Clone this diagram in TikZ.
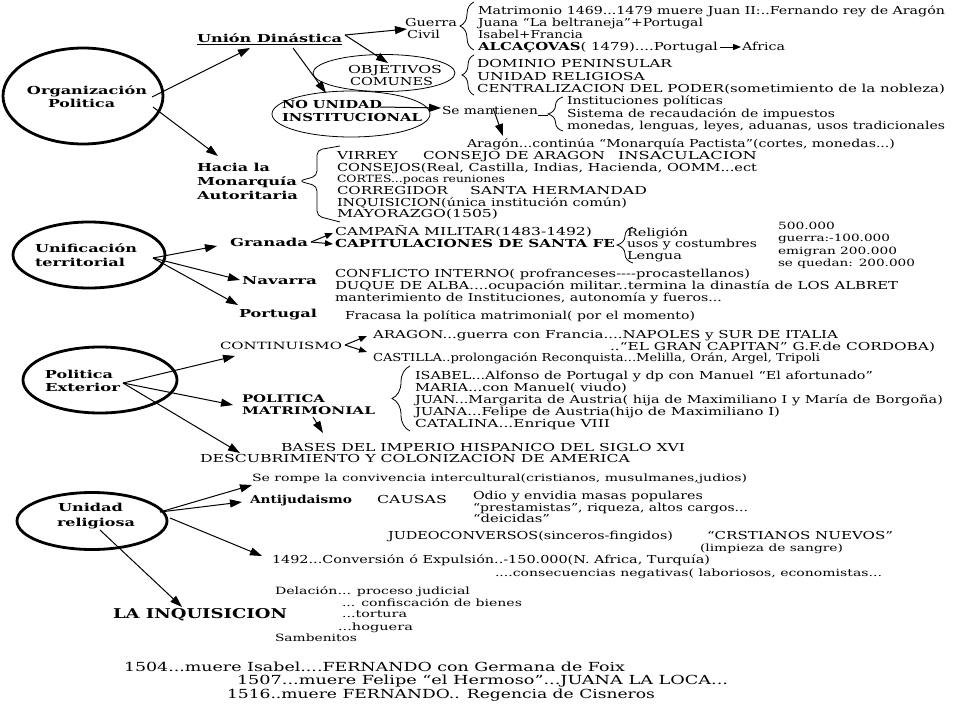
\documentclass[tikz,border=0pt]{standalone}
\usepackage{fontspec}
\setmainfont{DejaVu Serif}
\usetikzlibrary{arrows.meta,shapes.geometric,decorations.pathreplacing}
\newsavebox\fwbox
\newlength\fwlen
\newcommand\fw[2]{\sbox\fwbox{#2}\setlength\fwlen{\wd\fwbox}\pgfmathsetmacro\fwr{#1/\fwlen}\scalebox{\fwr}[1]{\usebox\fwbox}}
\newcommand\txtline[6][]{\node[txt,#1] (#2) at (#3,{#4+4}) {\fw{#5}{#6}};}
\begin{document}
\begin{tikzpicture}[x=1pt,y=-1pt,
  txt/.style={anchor=base west, inner sep=0pt, outer sep=0pt, font=\fontsize{11}{13}\selectfont},
  bfx/.style={font=\fontsize{11}{13}\selectfont\bfseries},
  bfsm/.style={font=\fontsize{10.5}{12}\selectfont\bfseries},
  sm/.style={font=\fontsize{10}{12}\selectfont},
  big/.style={font=\fontsize{12.5}{14}\selectfont},
  inq/.style={font=\fontsize{13.5}{15}\selectfont\bfseries},
  bigell/.style={draw, ellipse, line width=2.8pt, inner sep=0pt},
  thinell/.style={draw, ellipse, line width=0.8pt, inner sep=0pt},
  arr/.style={-{Triangle[length=12pt,width=8pt]}, line width=1pt},
  sarr/.style={-{Triangle[length=8pt,width=6pt]}, line width=1pt},
  brc/.style={decorate, decoration={brace, amplitude=#1}, line width=0.8pt}]
\useasboundingbox (0,0) rectangle (960,720);
\fill[white] (0,0) rectangle (960,720);

% ellipses
\node[bigell, minimum width=160pt, minimum height=96pt] (orgE) at (83,96) {};
\node[bigell, minimum width=152pt, minimum height=66pt] (unifE) at (89,255) {};
\node[bigell, minimum width=154pt, minimum height=66pt] (polE) at (100,380) {};
\node[bigell, minimum width=150pt, minimum height=57pt] (unidE) at (92,521) {};
\node[thinell, minimum width=142pt, minimum height=37pt] (objE) at (384,73) {};
\node[thinell, minimum width=158pt, minimum height=46pt] (noUE) at (351,114) {};

% circle texts
\txtline[bfx]{org1}{27}{90}{120}{Organización}
\txtline[bfx]{org2}{48}{103}{67}{Politica}
\txtline[bfx]{unif1}{35}{248}{102}{Unificación}
\txtline[bfx]{unif2}{35}{262}{90}{territorial}
\txtline[bfx]{pol1}{45}{374}{68}{Politica}
\txtline[bfx]{pol2}{45}{387}{75}{Exterior}
\txtline[bfx]{uni1}{58}{507}{65}{Unidad}
\txtline[bfx]{uni2}{57}{522}{78}{religiosa}

% top
\txtline[bfx]{unionD}{197}{38}{145}{Unión Dinástica}
\txtline{guerra}{405}{23}{52}{Guerra}
\txtline{civil}{407}{34}{33}{Civil}
\txtline{m1}{478}{10}{467}{Matrimonio 1469...1479 muere Juan II:..Fernando rey de Aragón}
\txtline{m2}{478}{22}{225}{Juana “La beltraneja”+Portugal}
\txtline{m3}{478}{34}{105}{Isabel+Francia}
\txtline{m4}{478}{46}{240}{\textbf{ALCAÇOVAS}( 1479)....Portugal}
\txtline{africa}{742}{46}{43}{Africa}
\txtline{obj1}{348}{69}{94}{OBJETIVOS}
\txtline{obj2}{350}{81}{83}{COMUNES}
\txtline{o1}{477}{63}{195}{DOMINIO PENINSULAR}
\txtline{o2}{477}{76}{168}{UNIDAD RELIGIOSA}
\txtline{o3}{477}{88}{468}{CENTRALIZACION DEL PODER(sometimiento de la nobleza)}
\txtline[bfx]{noU1}{282}{104}{100}{NO UNIDAD}
\txtline[bfx]{noU2}{282}{117}{140}{INSTITUCIONAL}
\txtline{semant}{442}{110}{96}{Se mantienen}
\txtline{s1}{567}{100}{156}{Instituciones políticas}
\txtline{s2}{567}{113}{268}{Sistema de recaudación de impuestos}
\txtline{s3}{567}{125}{378}{monedas, lenguas, leyes, aduanas, usos tradicionales}
\txtline{aragon}{467}{143}{428}{Aragón...continúa “Monarquía Pactista”(cortes, monedas...)}
\txtline[bfx]{hacia1}{197}{167}{73}{Hacia la}
\txtline[bfx]{hacia2}{197}{181}{100}{Monarquía}
\txtline[bfx]{hacia3}{197}{195}{101}{Autoritaria}
\txtline{h1a}{337}{155}{61}{VIRREY}
\txtline{h1b}{423}{155}{182}{CONSEJO DE ARAGON}
\txtline{h1c}{618}{155}{139}{INSACULACION}
\txtline{h2}{337}{167}{420}{CONSEJOS(Real, Castilla, Indias, Hacienda, OOMM...ect}
\txtline[sm]{h3}{337}{178}{168}{CORTES...pocas reuniones}
\txtline{h4a}{337}{190}{111}{CORREGIDOR}
\txtline{h4b}{470}{190}{177}{SANTA HERMANDAD}
\txtline{h5}{337}{202}{290}{INQUISICION(única institución común)}
\txtline{h6}{337}{213}{161}{MAYORAZGO(1505)}

% unificacion
\txtline[bfx]{granada}{230}{242}{78}{Granada}
\txtline[bfx]{navarra}{242}{280}{75}{Navarra}
\txtline[bfx]{portugal}{239}{313}{78}{Portugal}
\txtline{g1}{335}{231}{257}{CAMPAÑA MILITAR(1483-1492)}
\txtline[bfx]{g2}{335}{243}{280}{CAPITULACIONES DE SANTA FE}
\txtline{r1}{627}{232}{61}{Religión}
\txtline{r2}{627}{243}{130}{usos y costumbres}
\txtline{r3}{627}{255}{55}{Lengua}
\txtline[sm]{n1}{778}{225}{57}{500.000}
\txtline[sm]{n2}{778}{237}{112}{guerra:-100.000}
\txtline[sm]{n3}{778}{250}{119}{emigran 200.000}
\txtline[sm]{n4}{778}{262}{137}{se quedan: 200.000}
\txtline{v1}{335}{273}{415}{CONFLICTO INTERNO( profranceses-{}-{}-{}-procastellanos)}
\txtline{v2}{335}{285}{563}{DUQUE DE ALBA....ocupación militar..termina la dinastía de LOS ALBRET}
\txtline{v3}{335}{297}{387}{manterimiento de Instituciones, autonomía y fueros...}
\txtline{fracasa}{345}{315}{350}{Fracasa la política matrimonial( por el momento)}

% exterior
\txtline[sm]{cont}{220}{345}{122}{CONTINUISMO}
\txtline{a1}{373}{334}{465}{ARAGON...guerra con Francia....NAPOLES y SUR DE ITALIA}
\txtline{a2}{610}{346}{325}{..“EL GRAN CAPITAN” G.F.de CORDOBA)}
\txtline{a3}{373}{357}{447}{CASTILLA..prolongación Reconquista...Melilla, Orán, Argel, Tripoli}
\txtline[bfsm]{pm1}{242}{398}{83}{POLITICA}
\txtline[bfsm]{pm2}{242}{410}{133}{MATRIMONIAL}
\txtline{i1}{415}{375}{458}{ISABEL...Alfonso de Portugal y dp con Manuel “El afortunado”}
\txtline{i2}{415}{387}{212}{MARIA...con Manuel( viudo)}
\txtline{i3}{415}{399}{528}{JUAN...Margarita de Austria( hija de Maximiliano I y María de Borgoña)}
\txtline{i4}{415}{411}{365}{JUANA...Felipe de Austria(hijo de Maximiliano I)}
\txtline{i5}{415}{423}{195}{CATALINA...Enrique VIII}
\txtline{bases}{281}{447}{404}{BASES DEL IMPERIO HISPANICO DEL SIGLO XVI}
\txtline{desc}{200}{458}{430}{DESCUBRIMIENTO Y COLONIZACION DE AMERICA}

% religiosa
\txtline[sm]{rompe}{252}{477}{495}{Se rompe la convivencia intercultural(cristianos, musulmanes,judios)}
\txtline[bfx]{antij}{250}{499}{102}{Antijudaismo}
\txtline{causas}{377}{499}{70}{CAUSAS}
\txtline{c1}{473}{495}{230}{Odio y envidia masas populares}
\txtline{c2}{473}{507}{275}{“prestamistas”, riqueza, altos cargos...}
\txtline{c3}{473}{518}{77}{“deicidas”}
\txtline{judeo}{388}{535}{285}{JUDEOCONVERSOS(sinceros-fingidos)}
\txtline{crist}{707}{535}{186}{“CRSTIANOS NUEVOS”}
\txtline[sm]{limp}{700}{547}{143}{(limpieza de sangre)}
\txtline{exp}{272}{559}{438}{1492...Conversión ó Expulsión..-150.000(N. Africa, Turquía)}
\txtline[sm]{conse}{495}{572}{387}{....consecuencias negativas( laboriosos, economistas...}
\txtline[sm]{d1}{275}{590}{195}{Delación... proceso judicial}
\txtline[sm]{d2}{342}{602}{180}{... confiscación de bienes}
\txtline[sm]{d3}{342}{613}{65}{...tortura}
\txtline[sm]{d4}{338}{626}{75}{...hoguera}
\txtline[sm]{d5}{275}{637}{82}{Sambenitos}
\txtline[inq]{inq}{113}{614}{174}{LA INQUISICION}
\txtline[big]{f1}{124}{667}{501}{1504...muere Isabel....FERNANDO con Germana de Foix}
\txtline[big]{f2}{237}{680}{491}{1507...muere Felipe “el Hermoso”...JUANA LA LOCA...}
\txtline[big]{f3}{227}{694}{428}{1516..muere FERNANDO.. Regencia de Cisneros}

% underline
\draw[line width=0.8pt] ([yshift=-2pt]unionD.base west) -- ([yshift=-2pt]unionD.base east);

% braces
\draw[brc=14pt] (474,50) -- (474,2);
\draw[brc=12pt] (474,95) -- (474,55);
\draw[brc=15pt] (563,131) -- (563,97);
\draw[brc=16pt] (633,263) -- (633,227);
\draw[brc=18pt] (410,431) -- (410,366);
\draw[line width=0.8pt, rounded corners=5pt] (340,146) -- (317,150) -- (317,176) -- (299,181) -- (317,186) -- (317,216) -- (340,222);
\draw[line width=0.8pt] ([yshift=-1pt]semant.base east) -- ++(10,0);

% arrows
\draw[arr] ([shift={(69,1)}]orgE.center) -- ([shift={(53,6)}]unionD.base west);
\draw[arr] ([shift={(70,11)}]orgE.center) -- ([shift={(21,-15)}]hacia1.base west);
\draw[arr] ([shift={(3,-7)}]unionD.base east) -- ([shift={(2,2)}]guerra.base west);
\draw[arr] ([shift={(3,-7)}]unionD.base east) -- ([shift={(40,-10)}]obj1.base west);
\draw[arr] ([shift={(96,6)}]unionD.base west) -- ([shift={(-25,-21)}]noUE.center);
\draw[arr] ([shift={(-2,-1)}]noU1.base east) -- ([shift={(-1,-6)}]semant.base west);
\draw[arr] ([shift={(51,-6)}]semant.base west) -- ([shift={(36,-11)}]aragon.base west);
\draw[sarr] ([shift={(2,-3)}]m4.base east) -- ([shift={(-1,-3)}]africa.base west);

\draw[arr] ([shift={(64,3)}]unifE.center) -- ([shift={(-13,0)}]granada.base west);
\draw[arr] ([shift={(64,3)}]unifE.center) -- ([shift={(-2,-4)}]navarra.base west);
\draw[arr] ([shift={(64,3)}]unifE.center) -- ([shift={(-1,-12)}]portugal.base west);
\draw[sarr] ([shift={(3,-4)}]granada.base east) -- ([shift={(-2,-2)}]g1.base west);
\draw[sarr] ([shift={(3,-4)}]granada.base east) -- ([shift={(-2,-3)}]g2.base west);

\draw[arr] ([shift={(23,3)}]polE.center) -- ([shift={(15,7)}]cont.base west);
\draw[arr] ([shift={(23,3)}]polE.center) -- ([shift={(-9,3)}]pm1.base west);
\draw[arr] ([shift={(23,3)}]polE.center) -- ([shift={(40,-9)}]desc.base west);
\draw[sarr] ([shift={(3,-4)}]cont.base east) -- ([shift={(-6,-2)}]a1.base west);
\draw[sarr] ([shift={(3,-4)}]cont.base east) -- ([shift={(-6,-9)}]a3.base west);
\draw[arr] ([shift={(71,3)}]pm2.base west) -- ([shift={(42,-18)}]bases.base west);

\draw[arr] ([shift={(68,-9)}]unidE.center) -- ([shift={(0,4)}]rompe.base west);
\draw[arr] ([shift={(68,-9)}]unidE.center) -- ([shift={(-8,-1)}]antij.base west);
\draw[arr] ([shift={(78,-3)}]unidE.center) -- ([shift={(-10,-7)}]exp.base west);
\draw[arr] ([shift={(8,9)}]unidE.center) -- ([shift={(69,-11)}]inq.base west);
\end{tikzpicture}
\end{document}
